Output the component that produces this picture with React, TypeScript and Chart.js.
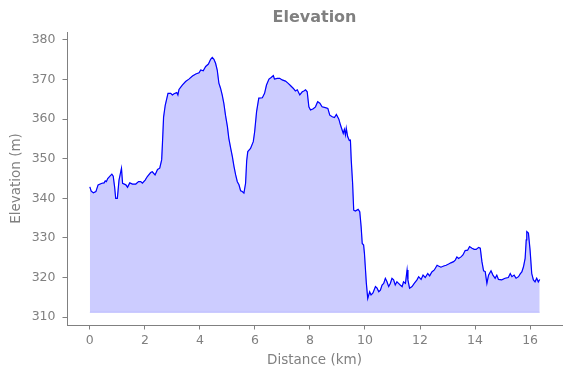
import React, { useEffect, useRef } from "react";
import { Chart, registerables } from "chart.js";

Chart.register(...registerables);

const TITLE = "Elevation";
const X_LABEL = "Distance (km)";
const Y_LABEL = "Elevation (m)";

const distanceKm = [
  0.0, 0.05, 0.13, 0.22, 0.3, 0.44, 0.52, 0.56, 0.6, 0.65, 0.73, 0.8, 0.85, 0.9, 0.94, 1.0,
  1.06, 1.15, 1.19, 1.31, 1.37, 1.45, 1.55, 1.67, 1.77, 1.85, 1.91, 2.01, 2.09, 2.21, 2.27,
  2.37, 2.46, 2.54, 2.61, 2.64, 2.68, 2.74, 2.84, 2.94, 3.0, 3.06, 3.16, 3.2, 3.24, 3.36,
  3.48, 3.6, 3.73, 3.85, 3.97, 4.03, 4.12, 4.21, 4.31, 4.39, 4.45, 4.51, 4.57, 4.63, 4.69,
  4.75, 4.81, 4.87, 4.93, 5.0, 5.05, 5.12, 5.18, 5.24, 5.3, 5.36, 5.42, 5.48, 5.54, 5.6,
  5.66, 5.7, 5.74, 5.84, 5.94, 5.99, 6.06, 6.14, 6.27, 6.35, 6.42, 6.51, 6.59, 6.67, 6.71,
  6.81, 6.9, 6.99, 7.11, 7.2, 7.29, 7.39, 7.47, 7.54, 7.63, 7.72, 7.78, 7.84, 7.9, 7.96,
  8.02, 8.12, 8.2, 8.28, 8.36, 8.44, 8.56, 8.65, 8.72, 8.81, 8.89, 8.96, 9.05, 9.11, 9.21,
  9.25, 9.29, 9.32, 9.37, 9.43, 9.47, 9.5, 9.55, 9.59, 9.65, 9.75, 9.81, 9.86, 9.9, 9.95,
  9.98, 10.05, 10.1, 10.17, 10.22, 10.29, 10.38, 10.44, 10.5, 10.56, 10.62, 10.68, 10.74,
  10.8, 10.86, 10.92, 10.98, 11.04, 11.1, 11.16, 11.22, 11.28, 11.35, 11.4, 11.47, 11.53,
  11.56, 11.62, 11.71, 11.79, 11.89, 11.95, 12.04, 12.11, 12.19, 12.28, 12.35, 12.43, 12.52,
  12.62, 12.67, 12.76, 12.86, 12.95, 13.04, 13.12, 13.22, 13.28, 13.34, 13.4, 13.49, 13.56,
  13.64, 13.73, 13.8, 13.89, 13.97, 14.04, 14.13, 14.19, 14.25, 14.31, 14.37, 14.43, 14.49,
  14.58, 14.65, 14.73, 14.79, 14.85, 14.97, 15.09, 15.21, 15.28, 15.34, 15.42, 15.49, 15.58,
  15.64, 15.7, 15.76, 15.82, 15.86, 15.88, 15.94, 16.0, 16.06, 16.12, 16.18, 16.24, 16.3,
  16.35,
];

const elevationM = [
  342.9, 341.8, 341.4, 341.7, 343.4, 343.8, 343.9, 344.4, 344.2, 345.0, 345.6, 346.1, 345.6,
  342.9, 340.0, 340.0, 344.6, 347.6, 343.8, 343.4, 342.8, 343.9, 343.6, 343.6, 344.2, 344.2,
  343.8, 344.6, 345.5, 346.5, 346.7, 345.9, 347.3, 347.6, 349.7, 354.0, 360.5, 363.5, 366.5,
  366.5, 366.1, 366.4, 366.7, 366.1, 367.5, 368.6, 369.5, 370.1, 370.9, 371.4, 371.7, 372.4,
  372.2, 373.3, 373.9, 375.1, 375.6, 375.1, 374.1, 372.4, 369.1, 367.8, 366.1, 364.0, 361.0,
  358.1, 355.2, 352.6, 350.5, 348.0, 345.9, 344.2, 343.4, 341.9, 341.7, 341.3, 343.8, 349.5,
  351.8, 352.6, 354.3, 356.8, 361.9, 365.3, 365.4, 366.5, 368.6, 370.1, 370.5, 371.0, 370.1,
  370.3, 370.3, 369.9, 369.6, 369.1, 368.5, 367.8, 367.1, 367.4, 366.1, 366.9, 367.1, 367.4,
  366.9, 363.1, 362.3, 362.6, 363.1, 364.4, 364.0, 363.1, 362.9, 362.7, 361.0, 360.6, 360.4,
  361.2, 360.0, 358.5, 356.4, 357.4, 356.0, 357.7, 355.6, 354.6, 354.7, 349.7, 343.8, 337.0,
  336.8, 337.2, 336.6, 332.8, 328.6, 328.2, 326.1, 318.5, 314.7, 316.4, 315.6, 316.1, 317.7,
  317.3, 316.4, 316.8, 318.1, 318.5, 319.8, 318.9, 317.7, 318.5, 319.8, 319.4, 318.1, 318.9,
  318.5, 318.1, 317.7, 318.9, 318.5, 321.9, 319.4, 317.3, 317.7, 318.5, 319.4, 320.2, 319.5,
  320.6, 320.0, 321.0, 320.4, 321.4, 321.9, 323.1, 322.9, 322.6, 322.9, 323.1, 323.4, 323.7,
  324.0, 324.4, 325.2, 324.8, 325.2, 325.7, 326.8, 326.9, 327.8, 327.4, 327.1, 327.1, 327.6,
  327.4, 324.0, 321.7, 321.5, 318.5, 320.6, 321.7, 320.6, 319.8, 320.6, 319.5, 319.4, 319.8,
  320.0, 321.0, 320.2, 320.6, 319.8, 320.2, 320.9, 321.4, 322.7, 324.8, 329.5, 331.6, 331.2,
  326.9, 321.0, 319.4, 318.9, 319.8, 318.9, 319.5,
];

const FILL_BASE = 311.2;
const xTickValues = [0, 2, 4, 6, 8, 10, 12, 14, 16];
const yTickValues = [310, 320, 330, 340, 350, 360, 370, 380];
const X_MIN = -0.83;
const X_MAX = 17.16;
const Y_MIN = 308.0;
const Y_MAX = 382.0;

const GRAY = "#808080";
const FONT = "'DejaVu Sans', sans-serif";

export default function App() {
  const ref = useRef<HTMLCanvasElement | null>(null);

  useEffect(() => {
    const canvas = ref.current;
    if (!canvas) return;
    const points = distanceKm.map((x, i) => ({ x, y: elevationM[i] }));
    const first = distanceKm[0];
    const last = distanceKm[distanceKm.length - 1];
    const chart = new Chart(canvas, {
      type: "line",
      data: {
        datasets: [
          {
            label: "profile",
            data: points,
            borderColor: "#0000ff",
            borderWidth: 1.2,
            pointRadius: 0,
            tension: 0,
            fill: false,
            order: 0,
          },
          {
            label: "area",
            data: points,
            borderColor: "rgba(0,0,255,0.2)",
            borderWidth: 1,
            backgroundColor: "rgba(0,0,255,0.2)",
            pointRadius: 0,
            tension: 0,
            fill: { value: FILL_BASE },
            order: 1,
          },
          {
            label: "base",
            data: [
              { x: first, y: FILL_BASE },
              { x: last, y: FILL_BASE },
            ],
            borderColor: "rgba(0,0,255,0.2)",
            borderWidth: 1,
            pointRadius: 0,
            fill: false,
            order: 2,
          },
        ],
      },
      options: {
        responsive: false,
        animation: false,
        devicePixelRatio: 1,
        layout: { padding: { left: 0, right: 9, top: 0, bottom: 0 } },
        plugins: {
          legend: { display: false },
          tooltip: { enabled: false },
          title: {
            display: true,
            text: TITLE,
            fullSize: false,
            color: GRAY,
            font: { family: FONT, size: 16, weight: "bold" },
            padding: { top: 8.4, bottom: 4.4 },
          },
        },
        scales: {
          x: {
            type: "linear",
            min: X_MIN,
            max: X_MAX,
            afterBuildTicks: (s: any) => {
              s.ticks = xTickValues.map((v) => ({ value: v }));
            },
            afterFit: (s: any) => {
              s.height = 53;
            },
            grid: {
              display: true,
              drawOnChartArea: false,
              drawTicks: true,
              tickLength: 4.5,
              tickWidth: 1,
              tickColor: GRAY,
              color: GRAY,
            },
            border: { display: true, color: GRAY, width: 1 },
            ticks: {
              color: GRAY,
              padding: 4,
              maxRotation: 0,
              autoSkip: false,
              font: { family: FONT, size: 12.5 },
              callback: (v: any) => String(v),
            },
            title: {
              display: true,
              text: X_LABEL,
              color: GRAY,
              font: { family: FONT, size: 13.5 },
              padding: { top: 4, bottom: 9 },
            },
          },
          y: {
            type: "linear",
            min: Y_MIN,
            max: Y_MAX,
            afterBuildTicks: (s: any) => {
              s.ticks = yTickValues.map((v) => ({ value: v }));
            },
            afterFit: (s: any) => {
              s.width = 67;
            },
            grid: {
              display: true,
              drawOnChartArea: false,
              drawTicks: true,
              tickLength: 4.5,
              tickWidth: 1,
              tickColor: GRAY,
              color: GRAY,
            },
            border: { display: true, color: GRAY, width: 1 },
            ticks: {
              color: GRAY,
              padding: 7,
              autoSkip: false,
              font: { family: FONT, size: 12.5 },
              callback: (v: any) => String(v),
            },
            title: {
              display: true,
              text: Y_LABEL,
              color: GRAY,
              font: { family: FONT, size: 13.5 },
              padding: { top: 8.4, bottom: 4 },
            },
          },
        },
      },
    });
    return () => chart.destroy();
  }, []);

  return (
    <div style={{ position: "absolute", left: 0, top: 0, width: 571, height: 378, background: "#fff" }}>
      <canvas ref={ref} width={571} height={378} style={{ width: 571, height: 378, display: "block" }} />
    </div>
  );
}
